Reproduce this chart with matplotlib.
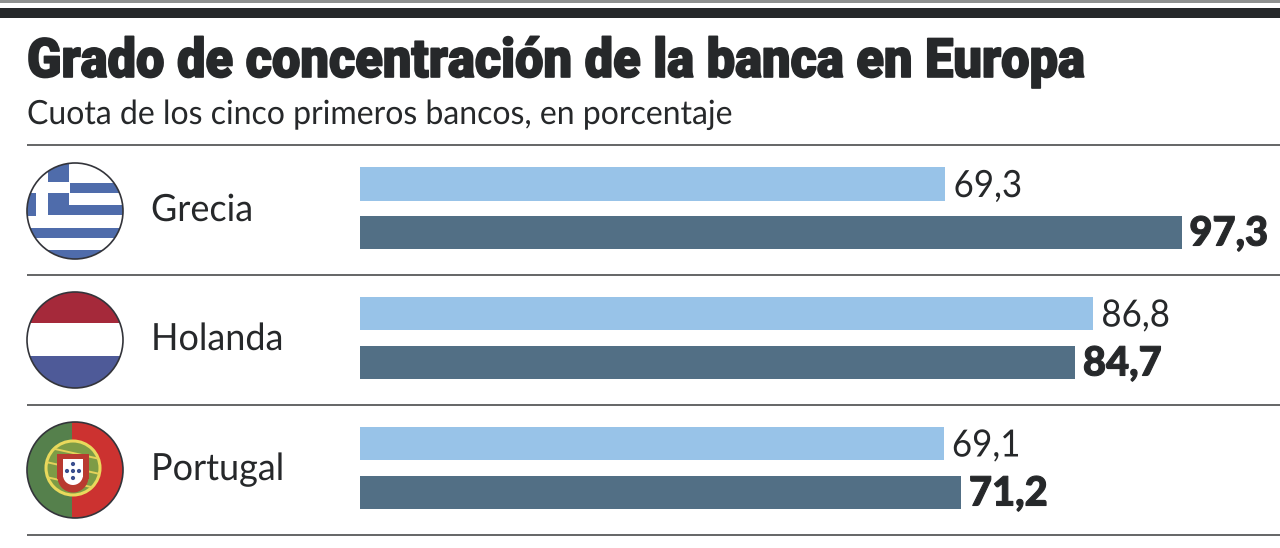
"""Grado de concentracion de la banca en Europa: paired bars with round flags."""

import matplotlib

matplotlib.use("Agg")
import matplotlib.pyplot as plt
from matplotlib.patches import Circle, Rectangle
from matplotlib.patheffects import AbstractPathEffect
from matplotlib.transforms import Affine2D

W, H = 1280, 548

COUNTRIES = ["Grecia", "Holanda", "Portugal"]
LIGHT_VALUES = [69.3, 86.8, 69.1]
DARK_VALUES = [97.3, 84.7, 71.2]

TITLE = "Grado de concentración de la banca en Europa"
SUBTITLE = "Cuota de los cinco primeros bancos, en porcentaje"

LIGHT = "#98c3e8"
DARK = "#526f85"
INK = "#26282a"

LIGHT_Y = [184, 313.5, 443.5]
DARK_Y = [232.5, 362.5, 492.5]
FLAG_Y = [211, 340, 470]
RULES_Y = [145, 275, 405, 535]
FLAG_X = 75
FLAG_R = 48


class Narrow(AbstractPathEffect):
    """No condensed family is installed, so squeeze the glyphs sideways when drawn."""

    def __init__(self, sx, grow=0.0):
        super().__init__()
        self.sx = sx
        self.grow = grow

    def draw_path(self, renderer, gc, tpath, affine, rgbFace):
        if self.grow:
            gc0 = renderer.new_gc()
            gc0.copy_properties(gc)
            gc0.set_linewidth(self.grow)
            gc0.set_foreground(rgbFace)
            renderer.draw_path(gc0, tpath, Affine2D().scale(self.sx, 1) + affine, rgbFace)
            gc0.restore()
        else:
            renderer.draw_path(gc, tpath, Affine2D().scale(self.sx, 1) + affine, rgbFace)


def px(ax, x0, y0, w, h, color, clip, z=2):
    r = Rectangle((x0, y0), w, h, color=color, lw=0, zorder=z)
    ax.add_patch(r)
    r.set_clip_path(clip)


def flag_disc(ax, y):
    return ax.add_patch(Circle((FLAG_X, y), FLAG_R, fc="white", ec="none", zorder=1))


def flag_outline(ax, y):
    ax.add_patch(Circle((FLAG_X, y), FLAG_R, fc="none", ec="#33343a", lw=1.2, zorder=8))


def greece(ax, y):
    blue = "#4f6cab"
    clip = flag_disc(ax, y)
    dy = y - 211
    for x0, y0, w, h in [(48, 160, 21, 22), (70, 183, 60, 10), (48, 205, 80, 10),
                         (20, 193, 16, 23), (48, 193, 21, 12), (20, 228, 110, 10),
                         (20, 250, 110, 12)]:
        px(ax, x0, y0 + dy, w, h, blue, clip)
    flag_outline(ax, y)


def holland(ax, y):
    clip = flag_disc(ax, y)
    px(ax, 20, y - 50, 110, 33, "#a5293a", clip)
    px(ax, 20, y + 16, 110, 34, "#4e5a98", clip)
    flag_outline(ax, y)


def portugal(ax, y):
    clip = flag_disc(ax, y)
    px(ax, 20, y - 50, 52, 100, "#55804c", clip)
    px(ax, 72, y - 50, 60, 100, "#cc3230", clip)
    cx, cy = 73, y - 2
    ring = ax.add_patch(Circle((cx, cy), 27, fc="#7d9c46", ec="#e9d95c", lw=2.2, zorder=3))
    # armillary bands seen through the ring
    for off in (-15, 0, 15):
        band = ax.plot([cx - 27, cx + 27], [cy + off - 6, cy + off + 6], color="#e4d25a",
                       lw=1.4, zorder=3.5)[0]
        band.set_clip_path(ring)
    ax.add_patch(Rectangle((cx - 16, cy - 14), 32, 25, fc="#b93a30", lw=0, zorder=4))
    ax.add_patch(Circle((cx, cy + 9), 15.5, fc="#b93a30", lw=0, zorder=4))
    ax.add_patch(Rectangle((cx - 10, cy - 9), 20, 18, fc="white", lw=0, zorder=5))
    ax.add_patch(Circle((cx, cy + 7), 10, fc="white", lw=0, zorder=5))
    for ox, oy in [(0, -4), (-6, 3), (0, 3), (6, 3), (0, 10)]:
        ax.add_patch(Circle((cx + ox, cy + oy), 2.1, fc="#3a4f8f", lw=0, zorder=6))
    flag_outline(ax, y)


fig = plt.figure(figsize=(W / 100, H / 100), dpi=100, facecolor="white")

bg = fig.add_axes([0, 0, 1, 1])
bg.set_xlim(0, W)
bg.set_ylim(H, 0)
bg.axis("off")

# header rules
bg.add_patch(Rectangle((0, 0), W, 2.5, color="#8f9190", lw=0))
bg.add_patch(Rectangle((0, 8), W, 9.5, color=INK, lw=0))
bg.text(27, 77, TITLE, family="Roboto", weight="black", fontsize=39, color=INK,
        va="baseline", ha="left", path_effects=[Narrow(0.934, 1.2)])
bg.text(27, 124, SUBTITLE, family="Lato", fontsize=24, color=INK,
        va="baseline", ha="left", path_effects=[Narrow(0.96)])

for ry in RULES_Y:
    bg.plot([27, W], [ry, ry], color="#4a4c4d", lw=1.2, solid_capstyle="butt")

for name, fy in zip(COUNTRIES, FLAG_Y):
    bg.text(151, fy + 10, name, family="Lato", fontsize=27, color=INK,
            va="baseline", ha="left", path_effects=[Narrow(0.96)])

greece(bg, FLAG_Y[0])
holland(bg, FLAG_Y[1])
portugal(bg, FLAG_Y[2])

# bars on their own axes: 8.45 px per percentage point from x=360
ax = fig.add_axes([360 / W, 0, 1 - 360 / W, 1])
ax.set_xlim(0, (W - 360) / 8.445)
ax.set_ylim(H, 0)
ax.axis("off")
ax.patch.set_alpha(0)
ax.barh(LIGHT_Y, LIGHT_VALUES, height=33.5, color=LIGHT)
ax.barh(DARK_Y, DARK_VALUES, height=33.5, color=DARK)

for v, y in zip(LIGHT_VALUES, LIGHT_Y):
    ax.annotate(f"{v:.1f}".replace(".", ","), (v, y + 13), xytext=(6, 0),
                textcoords="offset points", family="Lato", fontsize=27, color=INK,
                va="baseline", ha="left", path_effects=[Narrow(0.93)])
for v, y in zip(DARK_VALUES, DARK_Y):
    ax.annotate(f"{v:.1f}".replace(".", ","), (v, y + 13), xytext=(5.5, 0),
                textcoords="offset points", family="Lato", weight="black", fontsize=29,
                color=INK, va="baseline", ha="left", path_effects=[Narrow(0.99, 0.8)])

fig.savefig("out.png", dpi=100)
